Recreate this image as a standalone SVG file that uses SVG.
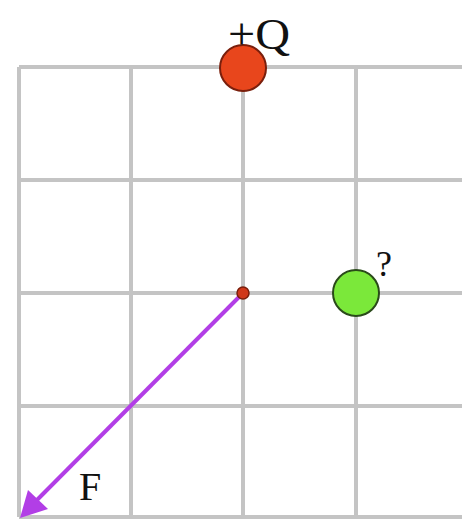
<svg xmlns="http://www.w3.org/2000/svg" width="462" height="520" viewBox="0 0 462 520">
<style>
.g{stroke:#c4c4c4;stroke-width:4;fill:none}
.t{font-family:"Liberation Serif",serif;fill:#111}
</style>
<rect width="462" height="520" fill="#fff"/>
<g id="grid">
<path class="g" d="M19 67V517M131 67V517M243 67V517M356 67V517M19 67H462M19 180H462M19 293H462M19 406H462M19 517H462"/>
</g>
<g id="connectors">
<line x1="243" y1="293" x2="30" y2="507" stroke="#b23ee6" stroke-width="4"/>
<polygon points="20,518 28,490 48,509" fill="#b23ee6"/>
</g>
<g id="chargeQ">
<circle cx="243" cy="68" r="23" fill="#e8461c" stroke="#7a1f0c" stroke-width="2"/>
<text class="t" x="228" y="49" font-size="44" textLength="62" lengthAdjust="spacingAndGlyphs">+Q</text>
</g>
<g id="chargeUnknown">
<circle cx="356" cy="293" r="23" fill="#7be83a" stroke="#2a4a1a" stroke-width="2"/>
<text class="t" x="376" y="276" font-size="36">?</text>
</g>
<g id="point">
<circle cx="243" cy="293" r="6" fill="#d0381a" stroke="#7a1f0c" stroke-width="1.5"/>
</g>
<g id="labelF">
<text class="t" x="79" y="500" font-size="40">F</text>
</g>
</svg>
